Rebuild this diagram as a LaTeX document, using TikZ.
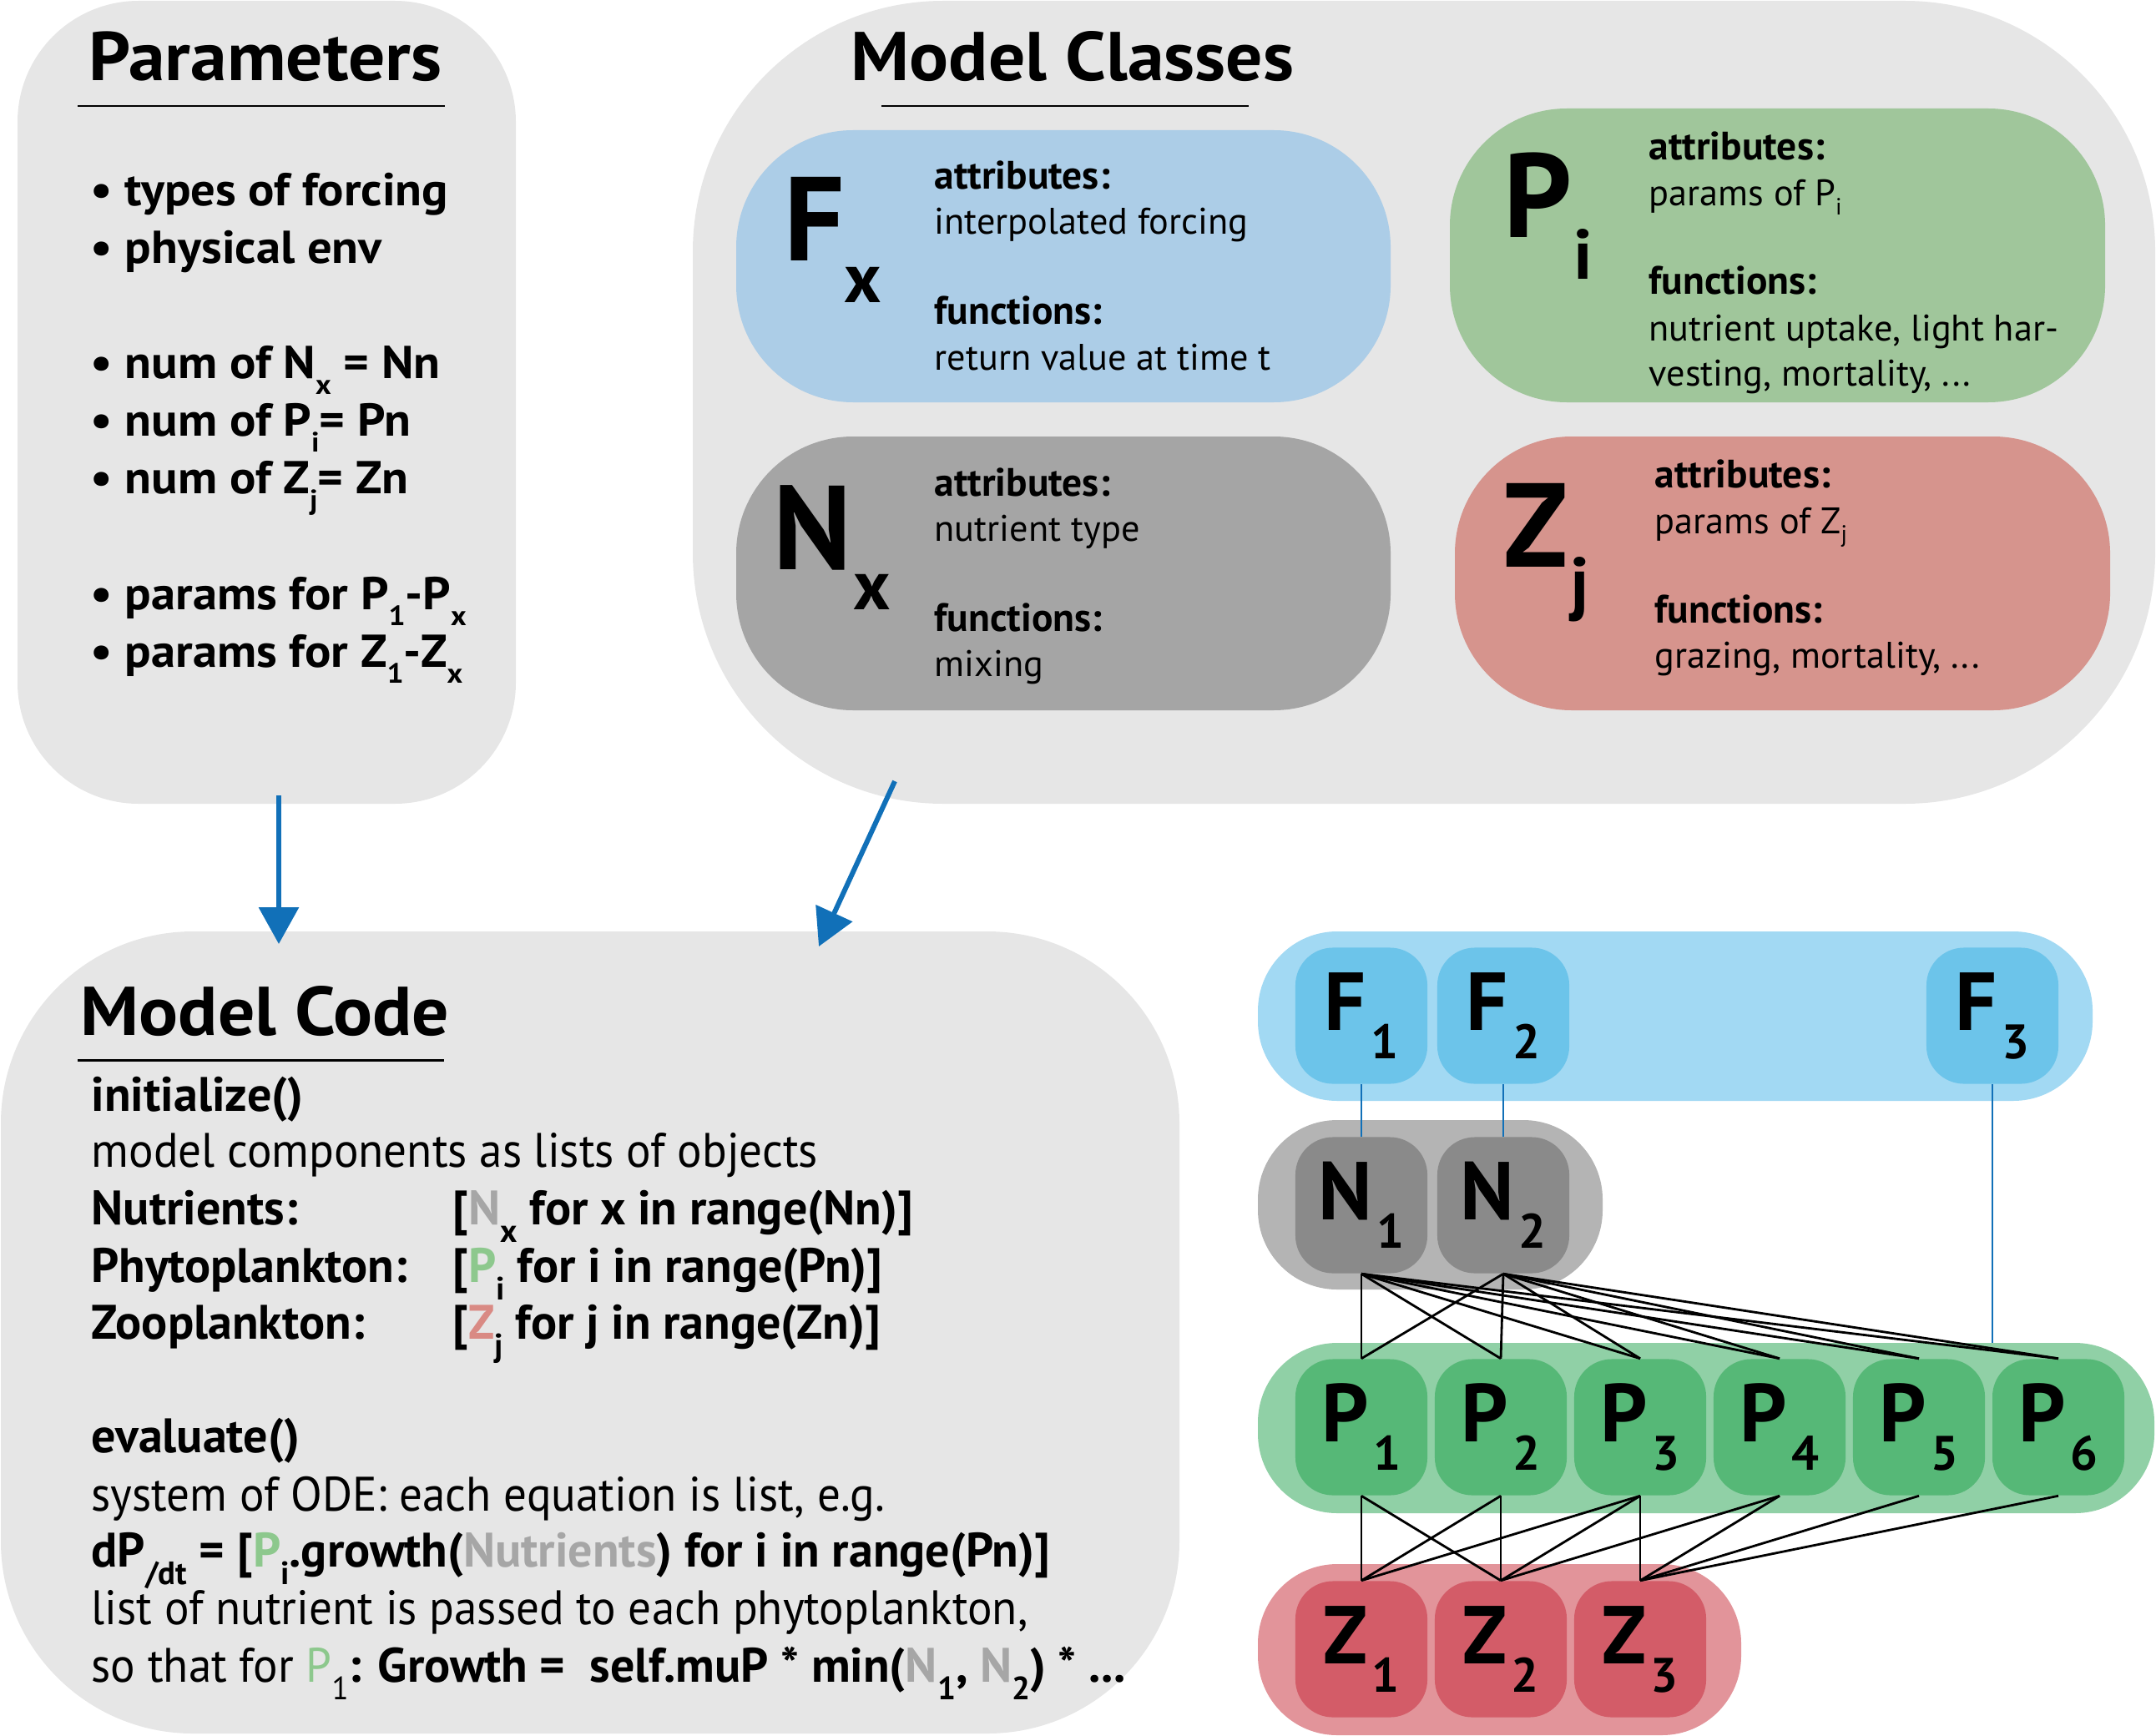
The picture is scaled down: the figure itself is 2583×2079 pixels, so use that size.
\documentclass[tikz,border=0pt]{standalone}
\usepackage{fontspec}
\setmainfont{PT Sans}
\newfontfamily\cnd[FakeStretch=0.95]{PT Sans}
\newfontfamily\wide[FakeStretch=1.06]{PT Sans}
\usetikzlibrary{arrows.meta}
\definecolor{bg}{HTML}{E6E6E6}
\definecolor{fxc}{HTML}{ACCDE7}
\definecolor{nxc}{HTML}{A5A5A5}
\definecolor{pic}{HTML}{A0C69B}
\definecolor{zjc}{HTML}{D6948D}
\definecolor{fband}{HTML}{A2D9F3}
\definecolor{fnode}{HTML}{6CC4EA}
\definecolor{nband}{HTML}{B4B4B4}
\definecolor{nnode}{HTML}{8A8A8A}
\definecolor{pband}{HTML}{90D0A6}
\definecolor{pnode}{HTML}{56B877}
\definecolor{zband}{HTML}{E2949A}
\definecolor{znode}{HTML}{D35C68}
\definecolor{arrowblue}{HTML}{1170B8}
\definecolor{ngray}{HTML}{A6A6A6}
\definecolor{pgreen}{HTML}{8DC88D}
\definecolor{zred}{HTML}{D98A84}
\newcommand\txt[4]{\node[anchor=base west,inner sep=0pt] (#1) at (#2,#3) {#4};}
\newcommand\ttl{\wide\fontsize{23.5}{27}\selectfont\bfseries}
\newcommand\pb{\wide\fontsize{15.7}{18}\selectfont\bfseries}
\newcommand\psub[1]{\raisebox{-5.5pt}{\fontsize{9.5}{9.5}\selectfont #1}}
\newcommand\clb{\fontsize{13.5}{16}\selectfont\bfseries}
\newcommand\clr{\fontsize{12.6}{15}\selectfont}
\newcommand\ssub[1]{\raisebox{-3pt}{\fontsize{8}{8}\selectfont #1}}
\newcommand\bigL{\fontsize{40.7}{44}\selectfont\bfseries}
\newcommand\bigS{\fontsize{24}{26}\selectfont\bfseries}
\newcommand\cdb{\fontsize{16.5}{19}\selectfont\bfseries}
\newcommand\cdr{\cnd\fontsize{16.5}{19}\selectfont}
\newcommand\csub[1]{\raisebox{-6pt}{\fontsize{11}{11}\selectfont #1}}
\newcommand\glab[2]{{\fontsize{28}{28}\selectfont\bfseries #1}\kern1.5pt\raisebox{-0.34cm}{\fontsize{16.5}{16.5}\selectfont\bfseries #2}}
\begin{document}
\begin{tikzpicture}[x=0.01cm,y=-0.01cm,
  gnode/.style={minimum width=1.58cm, minimum height=1.63cm, rounded corners=0.45cm, inner sep=0pt},
  nline/.style={black, line width=0.8pt},
  fline/.style={arrowblue, line width=0.6pt},
  arr/.style={draw=arrowblue, line width=1.7pt, -{Triangle[length=12.5pt,width=13.4pt]}}]
\useasboundingbox (0,0) rectangle (2583,2079);
% big boxes
\fill[bg, rounded corners=1.45cm] (21,1) rectangle (618,963);
\fill[bg, rounded corners=3cm] (830,1) rectangle (2582,963);
\fill[bg, rounded corners=2.3cm] (1,1116) rectangle (1413,2077);
% class boxes
\fill[fxc, rounded corners=1.4cm] (882,156) rectangle (1666,482);
\fill[nxc, rounded corners=1.4cm] (882,523) rectangle (1666,851);
\fill[pic, rounded corners=1.4cm] (1737,130) rectangle (2522,482);
\fill[zjc, rounded corners=1.4cm] (1743,523) rectangle (2528,851);
% Parameters
\txt{p0}{106}{97}{\ttl Parameters}
\draw[line width=0.85pt] (93,127) -- (533,127);
\txt{p1}{108}{247}{\pb • types of forcing}
\txt{p2}{108}{316}{\pb • physical env}
\txt{p3}{108}{453}{\pb • num of N\psub{x} = Nn}
\txt{p4}{108}{522}{\pb • num of P\psub{i}= Pn}
\txt{p5}{108}{591}{\pb • num of Z\psub{j}= Zn}
\txt{p6}{108}{730}{\pb • params for P\psub{1}-P\psub{x}}
\txt{p7}{108}{799}{\pb • params for Z\psub{1}-Z\psub{x}}
% Model classes
\txt{m0}{1019}{97}{\ttl Model Classes}
\draw[line width=0.85pt] (1056,127) -- (1496,127);
\txt{fxL}{939}{313}{\bigL F}
\txt{fxS}{1011}{363}{\bigS x}
\txt{fx1}{1119}{227}{\clb attributes:}
\txt{fx2}{1119}{281}{\clr interpolated forcing}
\txt{fx3}{1119}{389}{\clb functions:}
\txt{fx4}{1119}{443}{\clr return value at time t}
\txt{nxL}{926}{682}{\bigL N}
\txt{nxS}{1022}{730}{\bigS x}
\txt{nx1}{1119}{594}{\clb attributes:}
\txt{nx2}{1119}{648}{\clr nutrient type}
\txt{nx3}{1119}{756}{\clb functions:}
\txt{nx4}{1119}{810}{\clr mixing}
\txt{piL}{1801}{285}{\bigL P}
\txt{piS}{1885}{334}{\bigS i}
\txt{pi1}{1975}{192}{\clb attributes:}
\txt{pi2}{1975}{247}{\clr params of P\ssub{i}}
\txt{pi3}{1975}{353}{\clb functions:}
\txt{pi4}{1975}{408}{\clr nutrient uptake, light har-}
\txt{pi5}{1975}{462}{\clr vesting, mortality, ...}
\txt{zjL}{1801}{679}{\bigL Z}
\txt{zjS}{1881}{727}{\bigS j}
\txt{zj1}{1982}{584}{\clb attributes:}
\txt{zj2}{1982}{639}{\clr params of Z\ssub{j}}
\txt{zj3}{1982}{746}{\clb functions:}
\txt{zj4}{1982}{800}{\clr grazing, mortality, ...}
% Model code
\txt{c0}{96}{1240}{\ttl Model Code}
\draw[line width=0.85pt] (93,1270) -- (532,1270);
\txt{c1}{109}{1331}{\cdb initialize()}
\txt{c2}{109}{1398}{\cdr model components as lists of objects}
\txt{c3}{109}{1467}{\cdb Nutrients:}
\txt{c3b}{542}{1467}{\cdb [\textcolor{ngray}{N}\csub{x} for x in range(Nn)]}
\txt{c4}{109}{1536}{\cdb Phytoplankton:}
\txt{c4b}{542}{1536}{\cdb [\textcolor{pgreen}{P}\csub{i} for i in range(Pn)]}
\txt{c5}{109}{1604}{\cdb Zooplankton:}
\txt{c5b}{542}{1604}{\cdb [\textcolor{zred}{Z}\csub{j} for j in range(Zn)]}
\txt{c6}{109}{1740}{\cdb evaluate()}
\txt{c7}{109}{1810}{\cdr system of ODE: each equation is list, e.g.}
\txt{c8}{109}{1877}{\cdb dP\csub{/dt} = [\textcolor{pgreen}{P}\csub{i}.growth(\textcolor{ngray}{Nutrients}) for i in range(Pn)]}
\txt{c9}{109}{1946}{\cdr list of nutrient is passed to each phytoplankton,}
\txt{c10}{109}{2015}{\cdr so that for \textcolor{pgreen}{P}\csub{1}{\normalfont\bfseries: Growth = \ self.muP * min(\textcolor{ngray}{N}\csub{1}, \textcolor{ngray}{N}\csub{2}) * ...}}
% arrows
\coordinate (a1s) at (334,953);
\coordinate (a1e) at (334,1131);
\coordinate (a2s) at (1072,936);
\coordinate (a2e) at (981,1134);
\draw[arr] (a1s) -- (a1e);
\draw[arr] (a2s) -- (a2e);
% graph bands
\fill[fband, rounded corners=0.95cm] (1507,1116) rectangle (2507,1319);
\fill[nband, rounded corners=0.95cm] (1507,1342) rectangle (1920,1545);
\fill[pband, rounded corners=0.95cm] (1507,1609) rectangle (2581,1813);
\fill[zband, rounded corners=0.95cm] (1507,1874) rectangle (2086,2079);
% graph nodes
\node[gnode, fill=fnode] (F1) at (1631,1217) {\glab{F}{1}};
\node[gnode, fill=fnode] (F2) at (1801,1217) {\glab{F}{2}};
\node[gnode, fill=fnode] (F3) at (2387,1217) {\glab{F}{3}};
\node[gnode, fill=nnode] (N1) at (1631,1444) {\glab{N}{1}};
\node[gnode, fill=nnode] (N2) at (1801,1444) {\glab{N}{2}};
\foreach \i/\x in {1/1631,2/1798,3/1965,4/2132,5/2299,6/2466}
  \node[gnode, fill=pnode] (P\i) at (\x,1710) {\glab{P}{\i}};
\foreach \i/\x in {1/1631,2/1798,3/1965}
  \node[gnode, fill=znode] (Z\i) at (\x,1976) {\glab{Z}{\i}};
\coordinate (F3end) at (2387,1609);
% connectors
\draw[fline] (F1.south) -- (N1.north);
\draw[fline] (F2.south) -- (N2.north);
\draw[fline] (F3.south) -- (F3end);
\foreach \n in {N1,N2}
  \foreach \p in {P1,P2,P3,P4,P5,P6}
    \draw[nline] (\n.south) -- (\p.north);
\foreach \p/\z in {P1/Z1,P1/Z2,P2/Z1,P2/Z2,P3/Z1,P3/Z2,P3/Z3,P4/Z2,P4/Z3,P5/Z3,P6/Z3}
  \draw[nline] (\p.south) -- (\z.north);
\end{tikzpicture}
\end{document}
